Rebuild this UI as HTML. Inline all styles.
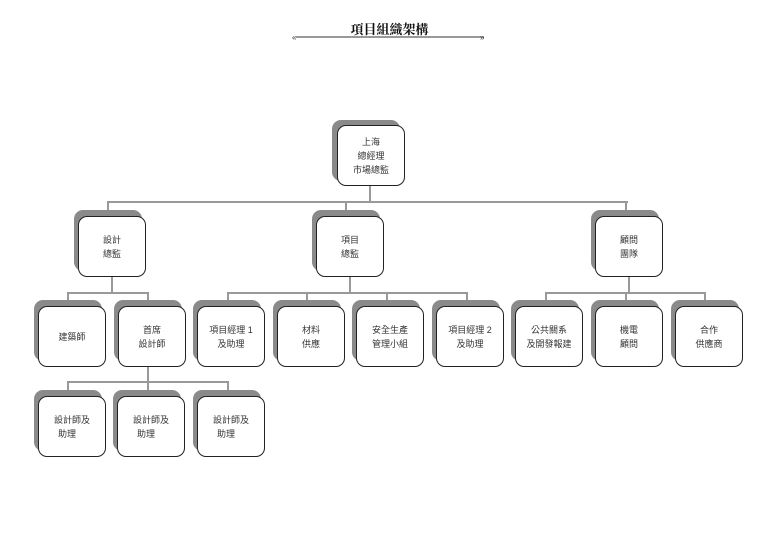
<!DOCTYPE html>
<html><head><meta charset="utf-8"><style>
body{margin:0;width:779px;height:537px;background:#fff;position:relative;overflow:hidden;font-family:"Liberation Sans","Noto Sans CJK TC",sans-serif}
.s{position:absolute;width:68px;height:61px;background:#8a8a8a;border-radius:9px}
.b{position:absolute;width:66px;height:59px;background:#fff;border:1px solid #222;border-radius:9px;display:flex;align-items:center;justify-content:center;text-align:center;font-size:9px;line-height:14px;color:#333}
.l{position:absolute;background:#999}
</style></head><body>
<div style="position:absolute;left:0;width:779px;top:19px;text-align:center;font-family:'Liberation Serif','Noto Serif CJK SC',serif;font-weight:bold;font-size:13px;color:#111">項目組織架構</div>
<svg style="position:absolute;left:290px;top:32px" width="200" height="10"><line x1="6" y1="5" x2="194" y2="5" stroke="#333" stroke-width="1"/><text x="2" y="8" font-size="8" fill="#333">«</text><text x="190" y="8" font-size="8" fill="#333">»</text></svg>

<!-- connectors -->
<div class="l" style="left:369px;top:186px;width:2px;height:17px"></div>
<div class="l" style="left:107px;top:201px;width:521px;height:2px"></div>
<div class="l" style="left:107px;top:201px;width:2px;height:10px"></div>
<div class="l" style="left:345px;top:201px;width:2px;height:10px"></div>
<div class="l" style="left:625px;top:201px;width:2px;height:10px"></div>

<div class="l" style="left:111px;top:276px;width:2px;height:17px"></div>
<div class="l" style="left:67px;top:292px;width:82px;height:2px"></div>
<div class="l" style="left:67px;top:292px;width:2px;height:10px"></div>
<div class="l" style="left:147px;top:292px;width:2px;height:10px"></div>

<div class="l" style="left:349px;top:276px;width:2px;height:17px"></div>
<div class="l" style="left:227px;top:292px;width:241px;height:2px"></div>
<div class="l" style="left:227px;top:292px;width:2px;height:10px"></div>
<div class="l" style="left:306px;top:292px;width:2px;height:10px"></div>
<div class="l" style="left:386px;top:292px;width:2px;height:10px"></div>
<div class="l" style="left:466px;top:292px;width:2px;height:10px"></div>

<div class="l" style="left:628px;top:276px;width:2px;height:17px"></div>
<div class="l" style="left:545px;top:292px;width:161px;height:2px"></div>
<div class="l" style="left:545px;top:292px;width:2px;height:10px"></div>
<div class="l" style="left:625px;top:292px;width:2px;height:10px"></div>
<div class="l" style="left:704px;top:292px;width:2px;height:10px"></div>

<div class="l" style="left:147px;top:366px;width:2px;height:17px"></div>
<div class="l" style="left:67px;top:381px;width:162px;height:2px"></div>
<div class="l" style="left:67px;top:381px;width:2px;height:10px"></div>
<div class="l" style="left:147px;top:381px;width:2px;height:10px"></div>
<div class="l" style="left:227px;top:381px;width:2px;height:10px"></div>

<!-- root -->
<div class="s" style="left:332px;top:120px"></div><div class="b" style="left:337px;top:125px">上海<br>總經理<br>市場總監</div>
<!-- L2 -->
<div class="s" style="left:74px;top:210px"></div><div class="b" style="left:78px;top:216px">設計<br>總監</div>
<div class="s" style="left:312px;top:210px"></div><div class="b" style="left:316px;top:216px">項目<br>總監</div>
<div class="s" style="left:591px;top:210px"></div><div class="b" style="left:595px;top:216px">顧問<br>團隊</div>
<!-- L3 -->
<div class="s" style="left:34px;top:300px"></div><div class="b" style="left:38px;top:306px">建築師</div>
<div class="s" style="left:114px;top:300px"></div><div class="b" style="left:118px;top:306px">首席<br>設計師</div>
<div class="s" style="left:193px;top:300px"></div><div class="b" style="left:197px;top:306px">項目經理 1<br>及助理</div>
<div class="s" style="left:273px;top:300px"></div><div class="b" style="left:277px;top:306px">材料<br>供應</div>
<div class="s" style="left:352px;top:300px"></div><div class="b" style="left:356px;top:306px">安全生產<br>管理小組</div>
<div class="s" style="left:432px;top:300px"></div><div class="b" style="left:436px;top:306px">項目經理 2<br>及助理</div>
<div class="s" style="left:511px;top:300px"></div><div class="b" style="left:515px;top:306px">公共關系<br>及開發報建</div>
<div class="s" style="left:591px;top:300px"></div><div class="b" style="left:595px;top:306px">機電<br>顧問</div>
<div class="s" style="left:671px;top:300px"></div><div class="b" style="left:675px;top:306px">合作<br>供應商</div>
<!-- L4 -->
<div class="s" style="left:34px;top:390px"></div><div class="b" style="left:38px;top:396px">設計師及<br>助理&nbsp;&nbsp;&nbsp;&nbsp;</div>
<div class="s" style="left:113px;top:390px"></div><div class="b" style="left:117px;top:396px">設計師及<br>助理&nbsp;&nbsp;&nbsp;&nbsp;</div>
<div class="s" style="left:193px;top:390px"></div><div class="b" style="left:197px;top:396px">設計師及<br>助理&nbsp;&nbsp;&nbsp;&nbsp;</div>
</body></html>
